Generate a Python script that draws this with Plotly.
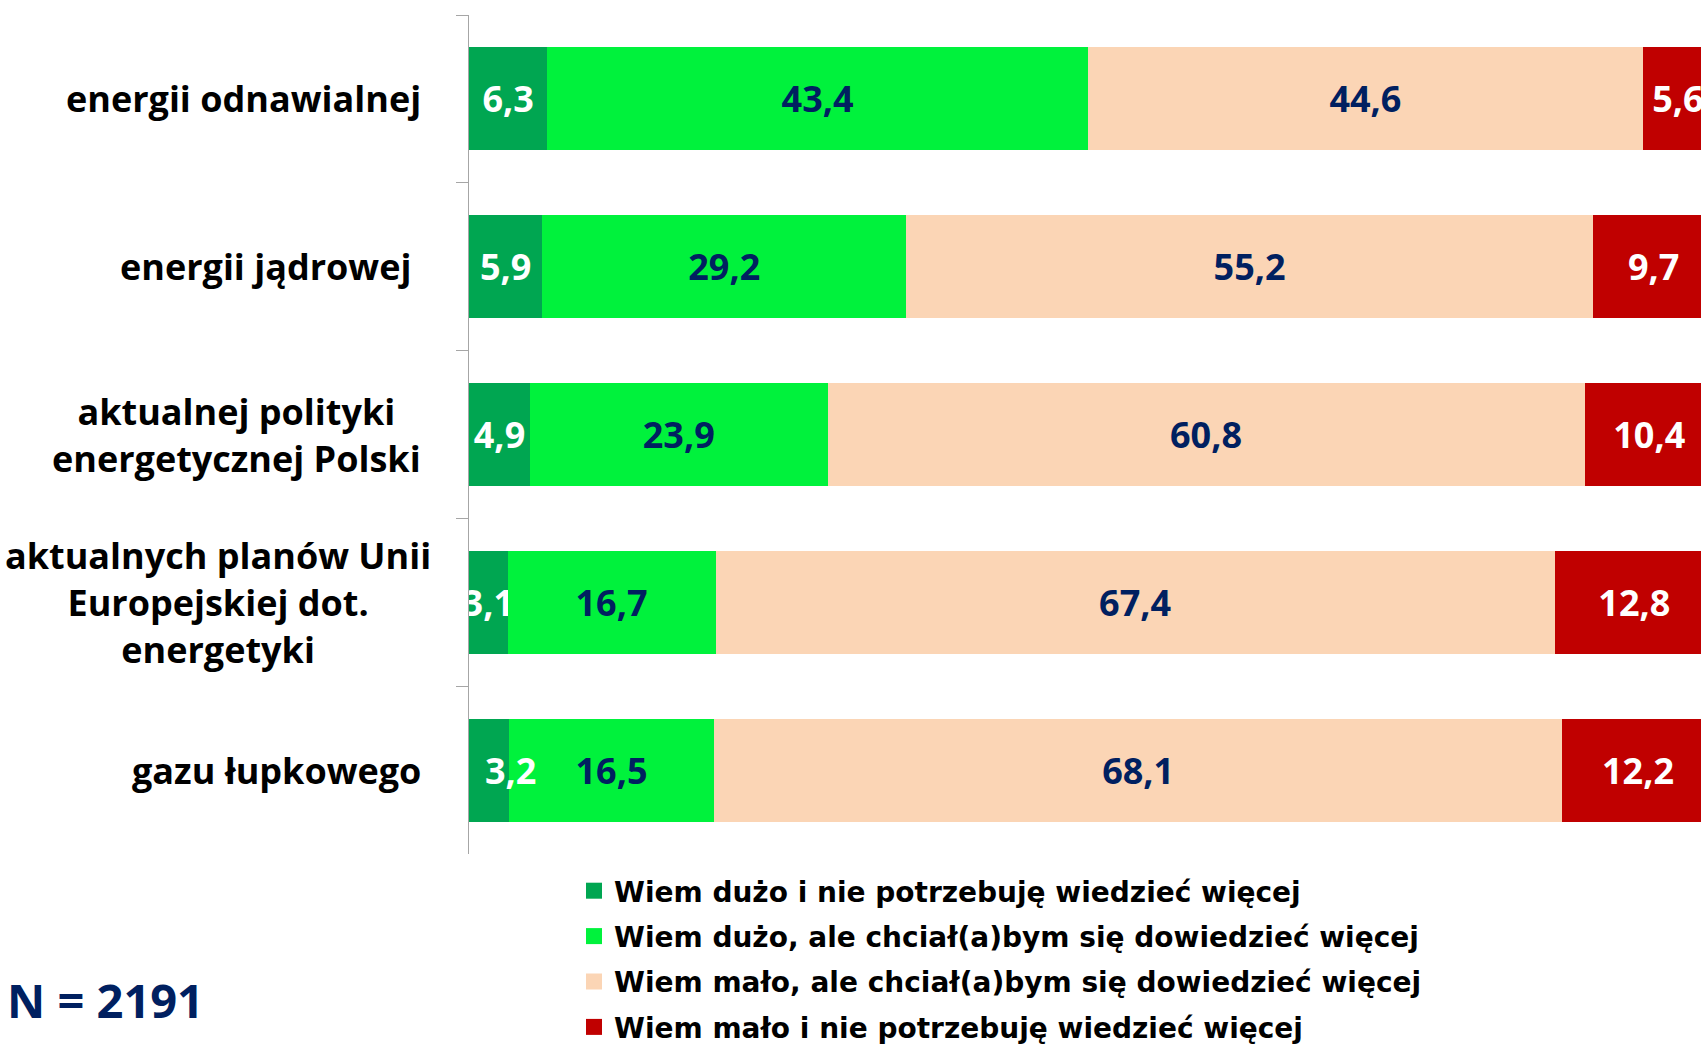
import plotly.graph_objects as go

# ---- data ----
categories = [
    "energii odnawialnej",
    "energii jądrowej",
    "aktualnej polityki<br>energetycznej Polski",
    "aktualnych planów Unii<br>Europejskiej dot.<br>energetyki",
    "gazu łupkowego",
]
series_names = [
    "Wiem dużo i nie potrzebuję wiedzieć więcej",
    "Wiem dużo, ale chciał(a)bym się dowiedzieć więcej",
    "Wiem mało, ale chciał(a)bym się dowiedzieć więcej",
    "Wiem mało i nie potrzebuję wiedzieć więcej",
]
wiem_duzo_nie = [6.3, 5.9, 4.9, 3.1, 3.2]
wiem_duzo_chce = [43.4, 29.2, 23.9, 16.7, 16.5]
wiem_malo_chce = [44.6, 55.2, 60.8, 67.4, 68.1]
wiem_malo_nie = [5.6, 9.7, 10.4, 12.8, 12.2]
sample_note = "N = 2191"

# ---- style ----
W, H = 1701, 1045
ML, MR, MT, MB = 469, 0, 15, 191
PW, PH = W - ML - MR, H - MT - MB
colors = ["#00A651", "#00F23C", "#FBD5B5", "#C00000"]
text_colors = ["white", "#002060", "#002060", "white"]
label_right_offsets = [-46, -56, -46, -36, -46]  # px from axis line
# first-series labels moved sideways (px) instead of centred in the bar
first_label_shift = [0, 0, 0, 0, 22]

series = [wiem_duzo_nie, wiem_duzo_chce, wiem_malo_chce, wiem_malo_nie]
value_font = dict(family="Open Sans", size=36, weight="bold")

fig = go.Figure()
for i, (name, vals) in enumerate(zip(series_names, series)):
    if i == 0:
        tt = ["" if s else "%{x:.1f}" for s in first_label_shift]
    else:
        tt = "%{x:.1f}"
    fig.add_trace(go.Bar(
        y=categories, x=vals, name=name, orientation="h",
        marker=dict(color=colors[i], line=dict(width=0)),
        texttemplate=tt, textposition="inside",
        insidetextanchor="middle", textangle=0, constraintext="none",
        insidetextfont=dict(**value_font, color=text_colors[i]),
        legendgroup=str(i), showlegend=False, cliponaxis=True,
    ))
    # legend entry with a larger square swatch
    fig.add_trace(go.Scatter(
        x=[None], y=[None], mode="markers", name=name, legendgroup=str(i),
        marker=dict(symbol="square", size=16, color=colors[i]),
        showlegend=True, hoverinfo="skip",
    ))

for cat, v, s in zip(categories, wiem_duzo_nie, first_label_shift):
    if s:
        fig.add_annotation(
            x=v / 2, xref="x", y=cat, yref="y", xshift=s,
            text=f"{v:.1f}".replace(".", ","), showarrow=False,
            font=dict(**value_font, color=text_colors[0]),
        )

for cat, off in zip(categories, label_right_offsets):
    fig.add_annotation(
        x=0, xref="paper", y=cat, yref="y", xanchor="right", yanchor="middle",
        xshift=off, text="<b>" + cat + "</b>", showarrow=False, align="center",
        font=dict(family="Open Sans", size=36, color="black"),
    )

fig.add_annotation(
    x=(5 - ML) / PW, xref="paper", y=-(1000 - (MT + PH)) / PH, yref="paper",
    xanchor="left", yanchor="middle", text="<b>" + sample_note + "</b>", showarrow=False,
    font=dict(family="Open Sans", size=47, color="#002060"),
)

fig.update_layout(
    width=W, height=H,
    margin=dict(l=ML, r=MR, t=MT, b=MB, autoexpand=False),
    barmode="stack", bargap=0.387,
    separators=", ",
    plot_bgcolor="white", paper_bgcolor="white",
    showlegend=True,
    legend=dict(
        x=(574 - ML) / PW, xanchor="left", y=-(866 - (MT + PH)) / PH, yanchor="top",
        traceorder="grouped", tracegroupgap=6, itemsizing="trace",
        font=dict(family="DejaVu Sans", size=28, weight="bold", color="black"),
        bgcolor="rgba(0,0,0,0)",
    ),
    xaxis=dict(visible=False, range=[0, PW / 12.45]),
    yaxis=dict(
        autorange="reversed", showticklabels=False,
        showline=True, linecolor="#A6A6A6", linewidth=1,
        ticks="outside", tickson="boundaries", ticklen=12, tickcolor="#A6A6A6",
        showgrid=False, zeroline=False,
    ),
)

fig.write_html(
    "out.html",
    config={"displayModeBar": False},
    post_script="document.body.style.margin='0';document.body.style.overflow='hidden';",
)
